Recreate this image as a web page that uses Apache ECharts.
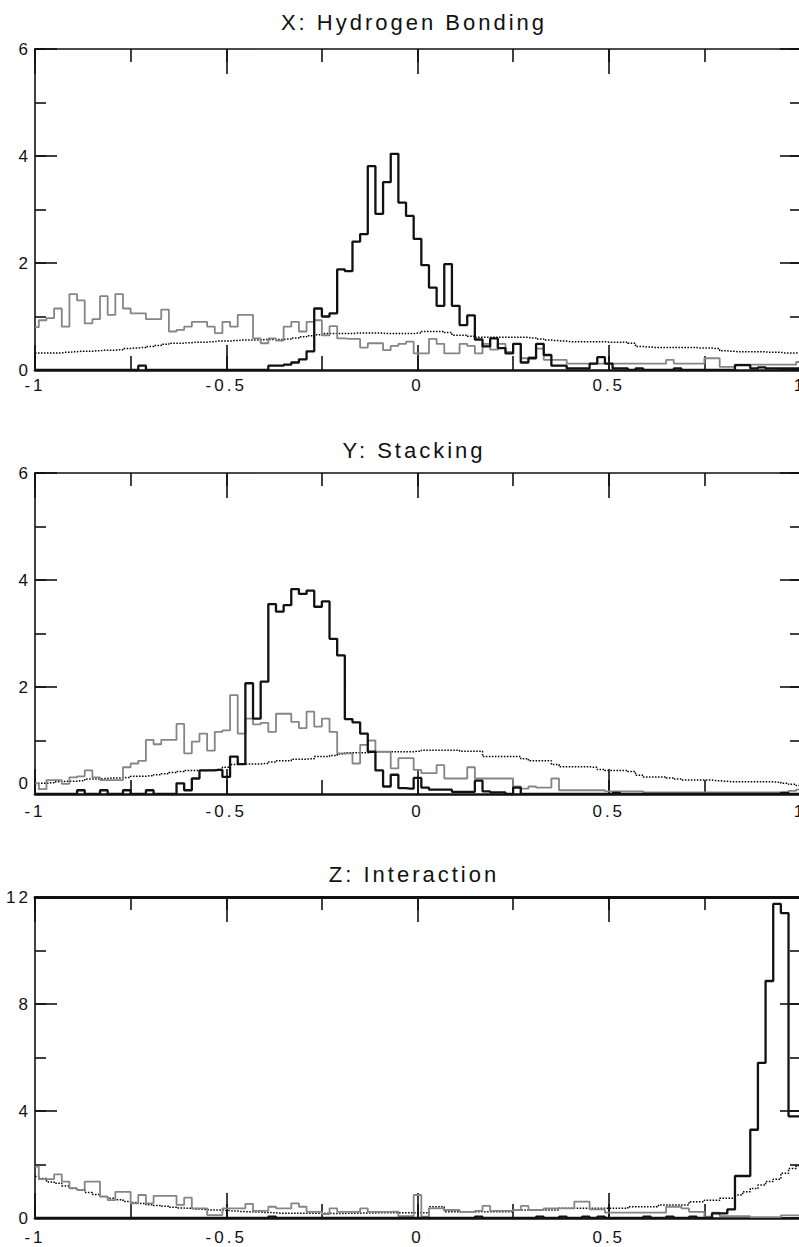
<!DOCTYPE html>
<html>
<head>
<meta charset="utf-8">
<script src="https://cdn.jsdelivr.net/npm/echarts@6/dist/echarts.min.js"></script>
<style>
html, body { margin: 0; padding: 0; background: #fff; }
#main { width: 799px; height: 1247px; overflow: hidden; }
#main text { letter-spacing: 3px; }
</style>
</head>
<body>
<div id="main"></div>
<script>
// ---- data (histogram heights at bin centres -1, -0.98, ... 1) ----
const titles = ['X: Hydrogen Bonding', 'Y: Stacking', 'Z: Interaction'];
const binStart = -1, binStep = 0.02, binCount = 101;

const hbBlack = [0,0,0,0,0,0,0,0,0,0, 0,0,0,0,0.08,0,0,0,0,0, 0,0,0,0,0,0,0,0,0,0,
  0,0.08,0.08,0.1,0.14,0.2,0.35,1.15,1.0,1.06, 1.88,1.85,2.4,2.54,3.81,2.92,3.51,4.04,3.13,2.88,
  2.45,1.96,1.54,1.2,1.98,1.2,0.84,1.02,0.57,0.44, 0.59,0.41,0.31,0.49,0.14,0.22,0.49,0.28,0.08,0.08,
  0.03,0.03,0.03,0.12,0.24,0.12,0.03,0.03,0,0.03, 0,0,0,0,0.03,0,0,0,0,0,
  0,0,0.09,0.09,0.03,0.05,0.03,0.03,0.03,0.03, 0.03];
const hbGray = [0.8,0.93,0.97,1.15,0.81,1.42,1.3,0.87,0.95,1.38, 1.03,1.42,1.15,1.06,1.06,0.95,0.95,1.13,0.72,0.75,
  0.81,0.9,0.9,0.81,0.69,0.9,0.81,1.03,1.03,0.59, 0.5,0.59,0.55,0.81,0.9,0.72,0.9,0.93,0.65,0.82,
  0.59,0.58,0.58,0.42,0.5,0.5,0.37,0.45,0.49,0.53, 0.31,0.31,0.58,0.49,0.31,0.31,0.49,0.45,0.31,0.49,
  0.38,0.49,0.34,0.49,0.22,0.24,0.4,0.19,0.19,0.19, 0.12,0.12,0.12,0.12,0.12,0.12,0.12,0.12,0.12,0.12,
  0.12,0.12,0.12,0.19,0.12,0.12,0.12,0.12,0.22,0.22, 0.06,0.06,0.1,0.1,0.1,0.1,0.1,0.1,0.1,0.1, 0.15];
const hbDot = [0.32,0.32,0.32,0.32,0.33,0.34,0.35,0.35,0.36,0.37, 0.37,0.38,0.4,0.41,0.42,0.44,0.46,0.48,0.5,0.5,
  0.51,0.52,0.52,0.53,0.54,0.54,0.55,0.56,0.56,0.56, 0.57,0.57,0.57,0.58,0.6,0.62,0.64,0.66,0.68,0.68,
  0.68,0.68,0.69,0.69,0.69,0.69,0.68,0.68,0.68,0.68, 0.69,0.72,0.72,0.72,0.7,0.65,0.65,0.63,0.61,0.61,
  0.61,0.61,0.61,0.61,0.61,0.6,0.58,0.56,0.55,0.54, 0.53,0.53,0.53,0.53,0.53,0.52,0.52,0.52,0.5,0.44,
  0.43,0.42,0.42,0.42,0.42,0.42,0.42,0.41,0.41,0.4, 0.36,0.35,0.34,0.34,0.34,0.34,0.33,0.33,0.32,0.32, 0.32];

const stBlack = [0,0,0,0,0,0,0.07,0,0,0.07, 0,0,0.07,0,0,0.07,0,0,0,0.2,
  0.07,0.29,0.44,0.44,0.45,0.32,0.7,0.56,2.07,1.41, 2.1,3.55,3.41,3.53,3.83,3.74,3.8,3.5,3.6,2.9,
  2.59,1.4,1.34,1.13,0.79,0.44,0.14,0.36,0.11,0.1, 0.3,0.12,0.08,0.08,0.08,0.04,0.04,0.04,0.25,0.05,
  0.03,0.03,0,0.12,0,0,0,0,0,0, 0,0,0,0,0,0,0.02,0,0,0, 0,0,0,0,0,0,0,0,0,0,
  0,0,0,0,0,0,0,0,0.02,0, 0];
const stGray = [0.2,0.09,0.26,0.26,0.19,0.31,0.33,0.44,0.31,0.26, 0.26,0.26,0.5,0.57,0.62,1.01,0.93,1.01,1.01,1.31,
  0.76,0.98,1.13,0.81,1.16,1.19,1.85,1.13,1.41,1.3, 1.33,1.16,1.5,1.5,1.35,1.23,1.54,1.26,1.41,1.16,
  0.76,0.76,0.57,0.92,1.0,0.79,0.79,0.48,0.67,0.67, 0.45,0.39,0.39,0.54,0.29,0.29,0.29,0.5,0.29,0.29,
  0.29,0.29,0.29,0.14,0.1,0.14,0.12,0.12,0.29,0.07, 0.07,0.07,0.07,0.07,0.07,0.05,0.05,0.05,0.05,0.05,
  0.03,0.03,0.03,0.03,0.03,0.03,0.03,0.03,0.03,0.03, 0.03,0.03,0.03,0.03,0.03,0.03,0.03,0.03,0.03,0.06, 0.08];
const stDot = [0.2,0.2,0.21,0.23,0.24,0.24,0.25,0.28,0.28,0.29, 0.3,0.3,0.31,0.33,0.33,0.34,0.36,0.38,0.4,0.42,
  0.44,0.44,0.44,0.45,0.46,0.5,0.55,0.56,0.56,0.56, 0.57,0.6,0.62,0.62,0.65,0.65,0.66,0.7,0.7,0.72,
  0.75,0.77,0.77,0.77,0.78,0.79,0.79,0.79,0.79,0.79, 0.8,0.82,0.82,0.82,0.82,0.82,0.8,0.8,0.8,0.7,
  0.7,0.7,0.7,0.7,0.66,0.62,0.62,0.62,0.55,0.51, 0.51,0.51,0.51,0.5,0.46,0.44,0.44,0.44,0.42,0.35,
  0.32,0.32,0.32,0.3,0.28,0.26,0.26,0.26,0.26,0.25, 0.24,0.23,0.23,0.23,0.23,0.23,0.23,0.22,0.2,0.18, 0.16];

const inBlack = [0,0,0,0,0,0,0,0,0,0, 0,0,0,0,0,0,0,0,0,0, 0,0,0,0,0,0,0,0,0,0,
  0,0.05,0,0,0,0,0,0,0,0, 0,0,0,0,0,0,0,0,0,0, 0,0,0,0,0,0,0,0,0.05,0,
  0,0,0,0,0,0,0.05,0,0,0.05, 0,0,0.05,0,0.05,0,0,0,0,0, 0.05,0,0,0.05,0,0,0.05,0,0,0.17,
  0.17,0.32,1.57,1.57,3.3,5.8,8.86,11.74,11.4,3.8, 3.8];
const inGray = [1.92,1.45,1.45,1.63,1.36,1.11,1.05,1.36,1.36,0.8, 0.67,0.98,0.98,0.55,0.86,0.55,0.83,0.83,0.83,0.49,
  0.76,0.36,0.36,0.11,0.11,0.36,0.36,0.36,0.53,0.27, 0.27,0.42,0.36,0.36,0.55,0.42,0.23,0.23,0.15,0.36,
  0.23,0.23,0.23,0.36,0.23,0.23,0.23,0.24,0.07,0.07, 0.86,0.05,0.36,0.36,0.3,0.3,0.23,0.23,0.27,0.45,
  0.27,0.27,0.27,0.3,0.45,0.3,0.3,0.36,0.36,0.36, 0.36,0.61,0.61,0.32,0.32,0.2,0.2,0.2,0.2,0.2,
  0.2,0.2,0.2,0.42,0.42,0.36,0.23,0.23,0.05,0.2, 0.07,0.07,0.07,0.07,0.03,0.03,0.03,0.03,0.1,0.1, 0.1];
const inDot = [1.55,1.48,1.35,1.3,1.2,1.12,1.05,0.95,0.88,0.8, 0.74,0.68,0.62,0.58,0.54,0.5,0.47,0.44,0.4,0.37,
  0.36,0.34,0.32,0.3,0.3,0.28,0.26,0.24,0.23,0.22, 0.21,0.2,0.18,0.18,0.18,0.18,0.18,0.18,0.18,0.17,
  0.17,0.18,0.18,0.19,0.19,0.2,0.2,0.2,0.2,0.2, 0.2,0.2,0.42,0.42,0.23,0.23,0.23,0.23,0.23,0.23,
  0.23,0.23,0.23,0.3,0.3,0.3,0.3,0.3,0.3,0.36, 0.36,0.36,0.36,0.36,0.36,0.36,0.36,0.36,0.42,0.42,
  0.42,0.42,0.49,0.49,0.49,0.49,0.61,0.61,0.66,0.66, 0.74,0.74,0.86,0.98,1.1,1.23,1.36,1.45,1.67,1.85, 1.95];

const yMax = [6, 6, 12];
const yStep = [2, 2, 4];
const xMajor = 0.5, xMinor = 0.25;

// ---- build ----
const FONT = '"Liberation Sans", Arial, Helvetica, sans-serif';
const centres = [];
for (let k = 0; k < binCount; k++) centres.push(+(binStart + binStep * k).toFixed(2));
const pairs = arr => arr.map((v, k) => [centres[k], v]);

const panels = [
  { top: 49,  black: hbBlack, gray: hbGray, dot: hbDot, labelMargin: 7,  topWidth: 1.6 },
  { top: 473, black: stBlack, gray: stGray, dot: stDot, labelMargin: 9,  topWidth: 1.6 },
  { top: 897, black: inBlack, gray: inGray, dot: inDot, labelMargin: 11, topWidth: 3 }
];
const titleY = [22, 450, 874];
const H = 321;

const grid = [], xAxis = [], yAxis = [], series = [], graphic = [];
const lineC = '#111';
const txtC = '#111';
const tickStyle = { color: lineC, width: 1.6 };

function xAx(i, pos, interval, tickLen, line, label) {
  return {
    type: 'value', gridIndex: i, position: pos, min: -1, max: 1, interval: interval,
    splitLine: { show: false },
    axisLine: line ? { show: true, onZero: false, lineStyle: { color: lineC, width: line } } : { show: false, onZero: false },
    axisTick: { show: true, inside: true, length: tickLen, lineStyle: tickStyle },
    axisLabel: label || { show: false }
  };
}
function yAx(i, pos, interval, tickLen, line, label) {
  return {
    type: 'value', gridIndex: i, position: pos, min: 0, max: yMax[i], interval: interval,
    splitLine: { show: false },
    axisLine: line ? { show: true, onZero: false, lineStyle: { color: lineC, width: line } } : { show: false, onZero: false },
    axisTick: { show: true, inside: true, length: tickLen, lineStyle: tickStyle },
    axisLabel: label || { show: false }
  };
}

panels.forEach((p, i) => {
  grid.push({ left: 35, top: p.top, width: 765, height: H, containLabel: false, outerBoundsMode: 'none' });
  const xb = xAxis.length;
  xAxis.push(xAx(i, 'bottom', xMajor, 25, 2.6, {
    show: true, margin: p.labelMargin, color: txtC, fontSize: 17, fontFamily: FONT,
    showMaxLabel: i < 2, hideOverlap: false
  }));
  xAxis.push(xAx(i, 'bottom', xMinor, 14, 0, null));
  xAxis.push(xAx(i, 'top', xMajor, 25, p.topWidth, null));
  xAxis.push(xAx(i, 'top', xMinor, 13, 0, null));
  const yb = yAxis.length;
  yAxis.push(yAx(i, 'left', yStep[i], 22, 1.6, {
    show: true, margin: 4, color: txtC, fontSize: 17, fontFamily: FONT,
    formatter: v => (i === 1 && v === 0) ? '{up|0}' : String(v),
    rich: { up: { fontSize: 17, fontFamily: FONT, color: txtC, padding: [0, 0, 22, 0] } }
  }));
  yAxis.push(yAx(i, 'left', yStep[i] / 2, 11, 0, null));
  yAxis.push(yAx(i, 'right', yStep[i], 20, 0, null));
  yAxis.push(yAx(i, 'right', yStep[i] / 2, 10, 0, null));

  const common = { type: 'line', step: 'middle', showSymbol: false, symbol: 'none',
    xAxisIndex: xb, yAxisIndex: yb, silent: true, animation: false };
  series.push(Object.assign({}, common, { name: 'dot' + i, data: pairs(p.dot), z: 2,
    lineStyle: { color: '#000', width: 1.5, type: [1.5, 1.5] } }));
  series.push(Object.assign({}, common, { name: 'gray' + i, data: pairs(p.gray), z: 3,
    lineStyle: { color: '#858585', width: 1.8 } }));
  series.push(Object.assign({}, common, { name: 'black' + i, data: pairs(p.black), z: 4,
    lineStyle: { color: '#111', width: 2.3 } }));
  graphic.push({ type: 'text', x: 414, y: titleY[i], silent: true,
    style: { text: titles[i], font: '22px ' + FONT, fill: '#111',
      align: 'center', verticalAlign: 'middle', textAlign: 'center', textVerticalAlign: 'middle' } });
});

const chart = echarts.init(document.getElementById('main'), null, { renderer: 'svg', width: 799, height: 1247 });
chart.setOption({
  animation: false,
  backgroundColor: '#fff',
  grid, xAxis, yAxis, series, graphic
});
</script>
</body>
</html>
